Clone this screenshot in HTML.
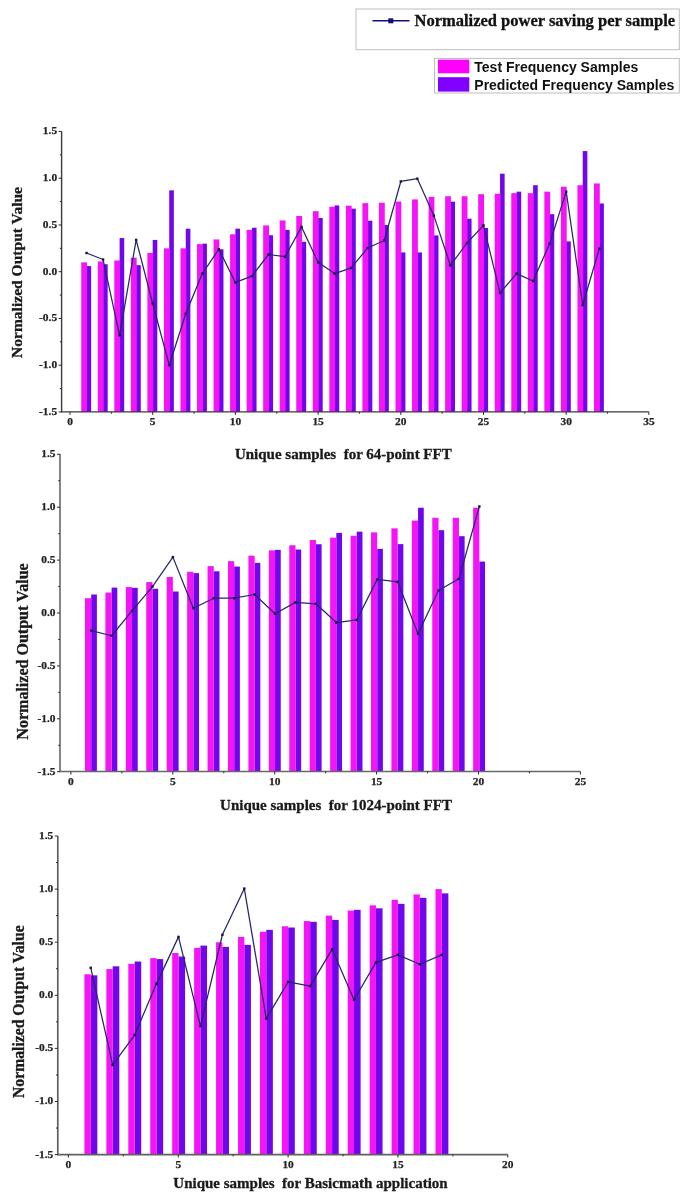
<!DOCTYPE html>
<html><head><meta charset="utf-8"><title>Normalized Output Charts</title>
<style>
html,body{margin:0;padding:0;background:#fff;}
body{width:685px;height:1200px;overflow:hidden;}
svg{display:block;filter:blur(0.4px);}
.bars{filter:blur(0.45px);}
.tk{font-family:"Liberation Serif",serif;font-weight:bold;font-size:11.4px;fill:#222;stroke:#222;stroke-width:0.25px;}
.xl{white-space:pre;font-family:"Liberation Serif",serif;font-weight:bold;font-size:15px;fill:#1a1a1a;stroke:#1a1a1a;stroke-width:0.3px;}
.yl{font-family:"Liberation Serif",serif;font-weight:bold;font-size:15.5px;fill:#1a1a1a;stroke:#1a1a1a;stroke-width:0.3px;}
.lg1{font-family:"Liberation Serif",serif;font-weight:bold;font-size:16.5px;fill:#111;stroke:#111;stroke-width:0.3px;}
.lg2{font-family:"Liberation Sans",sans-serif;font-weight:bold;font-size:14px;fill:#111;}
</style></head><body>
<svg width="685" height="1200" viewBox="0 0 685 1200">
<rect width="685" height="1200" fill="#fff"/>
<g>
<g class="bars">
<rect x="86.54" y="266.09" width="4.60" height="145.81" fill="#7006ec"/>
<rect x="81.24" y="262.35" width="5.80" height="149.55" fill="#f514f5"/>
<rect x="103.08" y="264.22" width="4.60" height="147.68" fill="#7006ec"/>
<rect x="97.78" y="261.41" width="5.80" height="150.49" fill="#f514f5"/>
<rect x="119.62" y="238.04" width="4.60" height="173.86" fill="#7006ec"/>
<rect x="114.32" y="260.48" width="5.80" height="151.42" fill="#f514f5"/>
<rect x="136.16" y="265.15" width="4.60" height="146.75" fill="#7006ec"/>
<rect x="130.86" y="257.68" width="5.80" height="154.22" fill="#f514f5"/>
<rect x="152.70" y="239.91" width="4.60" height="171.99" fill="#7006ec"/>
<rect x="147.40" y="253.00" width="5.80" height="158.90" fill="#f514f5"/>
<rect x="169.24" y="190.35" width="4.60" height="221.54" fill="#7006ec"/>
<rect x="163.94" y="248.32" width="5.80" height="163.57" fill="#f514f5"/>
<rect x="185.78" y="228.69" width="4.60" height="183.21" fill="#7006ec"/>
<rect x="180.48" y="248.32" width="5.80" height="163.57" fill="#f514f5"/>
<rect x="202.32" y="243.65" width="4.60" height="168.25" fill="#7006ec"/>
<rect x="197.02" y="244.12" width="5.80" height="167.78" fill="#f514f5"/>
<rect x="218.86" y="249.26" width="4.60" height="162.64" fill="#7006ec"/>
<rect x="213.56" y="239.44" width="5.80" height="172.46" fill="#f514f5"/>
<rect x="235.40" y="228.69" width="4.60" height="183.21" fill="#7006ec"/>
<rect x="230.10" y="234.30" width="5.80" height="177.60" fill="#f514f5"/>
<rect x="251.94" y="227.75" width="4.60" height="184.14" fill="#7006ec"/>
<rect x="246.64" y="229.91" width="5.80" height="181.99" fill="#f514f5"/>
<rect x="268.48" y="235.23" width="4.60" height="176.66" fill="#7006ec"/>
<rect x="263.18" y="225.42" width="5.80" height="186.48" fill="#f514f5"/>
<rect x="285.02" y="229.91" width="4.60" height="181.99" fill="#7006ec"/>
<rect x="279.72" y="220.46" width="5.80" height="191.44" fill="#f514f5"/>
<rect x="301.56" y="241.78" width="4.60" height="170.12" fill="#7006ec"/>
<rect x="296.26" y="215.97" width="5.80" height="195.93" fill="#f514f5"/>
<rect x="318.10" y="217.94" width="4.60" height="193.96" fill="#7006ec"/>
<rect x="312.80" y="211.21" width="5.80" height="200.69" fill="#f514f5"/>
<rect x="334.64" y="205.41" width="4.60" height="206.49" fill="#7006ec"/>
<rect x="329.34" y="206.72" width="5.80" height="205.18" fill="#f514f5"/>
<rect x="351.18" y="208.68" width="4.60" height="203.22" fill="#7006ec"/>
<rect x="345.88" y="205.69" width="5.80" height="206.21" fill="#f514f5"/>
<rect x="367.72" y="220.74" width="4.60" height="191.16" fill="#7006ec"/>
<rect x="362.42" y="203.16" width="5.80" height="208.74" fill="#f514f5"/>
<rect x="384.26" y="224.95" width="4.60" height="186.95" fill="#7006ec"/>
<rect x="378.96" y="202.70" width="5.80" height="209.20" fill="#f514f5"/>
<rect x="400.80" y="252.44" width="4.60" height="159.46" fill="#7006ec"/>
<rect x="395.50" y="201.57" width="5.80" height="210.32" fill="#f514f5"/>
<rect x="417.34" y="252.44" width="4.60" height="159.46" fill="#7006ec"/>
<rect x="412.04" y="199.42" width="5.80" height="212.48" fill="#f514f5"/>
<rect x="433.88" y="235.42" width="4.60" height="176.48" fill="#7006ec"/>
<rect x="428.58" y="196.90" width="5.80" height="215.00" fill="#f514f5"/>
<rect x="450.42" y="201.67" width="4.60" height="210.23" fill="#7006ec"/>
<rect x="445.12" y="196.25" width="5.80" height="215.65" fill="#f514f5"/>
<rect x="466.96" y="218.69" width="4.60" height="193.21" fill="#7006ec"/>
<rect x="461.66" y="196.25" width="5.80" height="215.65" fill="#f514f5"/>
<rect x="483.50" y="227.94" width="4.60" height="183.96" fill="#7006ec"/>
<rect x="478.20" y="194.19" width="5.80" height="217.71" fill="#f514f5"/>
<rect x="500.04" y="173.71" width="4.60" height="238.19" fill="#7006ec"/>
<rect x="494.74" y="193.72" width="5.80" height="218.18" fill="#f514f5"/>
<rect x="516.58" y="191.66" width="4.60" height="220.24" fill="#7006ec"/>
<rect x="511.28" y="193.16" width="5.80" height="218.74" fill="#f514f5"/>
<rect x="533.12" y="185.21" width="4.60" height="226.69" fill="#7006ec"/>
<rect x="527.82" y="193.16" width="5.80" height="218.74" fill="#f514f5"/>
<rect x="549.66" y="214.20" width="4.60" height="197.70" fill="#7006ec"/>
<rect x="544.36" y="191.66" width="5.80" height="220.24" fill="#f514f5"/>
<rect x="566.20" y="241.41" width="4.60" height="170.49" fill="#7006ec"/>
<rect x="560.90" y="186.71" width="5.80" height="225.19" fill="#f514f5"/>
<rect x="582.74" y="151.08" width="4.60" height="260.81" fill="#7006ec"/>
<rect x="577.44" y="185.21" width="5.80" height="226.69" fill="#f514f5"/>
<rect x="599.28" y="203.44" width="4.60" height="208.45" fill="#7006ec"/>
<rect x="593.98" y="183.44" width="5.80" height="228.46" fill="#f514f5"/>
</g>
<polyline points="86.54,253.00 103.08,259.54 119.62,335.28 136.16,239.91 152.70,303.49 169.24,365.20 185.78,313.77 202.32,273.57 218.86,249.26 235.40,282.45 251.94,276.19 268.48,254.50 285.02,256.74 301.56,226.91 318.10,262.35 334.64,273.57 351.18,267.96 367.72,247.95 384.26,240.47 400.80,181.47 417.34,178.67 433.88,215.60 450.42,265.44 466.96,243.00 483.50,225.42 500.04,292.92 516.58,273.57 533.12,281.05 549.66,243.65 566.20,191.66 582.74,304.99 599.28,248.70" fill="none" stroke="#26266c" stroke-width="1.25" stroke-linejoin="round"/>
<rect x="85.34" y="251.80" width="2.4" height="2.4" fill="#15153a"/>
<rect x="101.88" y="258.34" width="2.4" height="2.4" fill="#15153a"/>
<rect x="118.42" y="334.08" width="2.4" height="2.4" fill="#15153a"/>
<rect x="134.96" y="238.71" width="2.4" height="2.4" fill="#15153a"/>
<rect x="151.50" y="302.29" width="2.4" height="2.4" fill="#15153a"/>
<rect x="168.04" y="364.00" width="2.4" height="2.4" fill="#15153a"/>
<rect x="184.58" y="312.57" width="2.4" height="2.4" fill="#15153a"/>
<rect x="201.12" y="272.37" width="2.4" height="2.4" fill="#15153a"/>
<rect x="217.66" y="248.06" width="2.4" height="2.4" fill="#15153a"/>
<rect x="234.20" y="281.25" width="2.4" height="2.4" fill="#15153a"/>
<rect x="250.74" y="274.99" width="2.4" height="2.4" fill="#15153a"/>
<rect x="267.28" y="253.30" width="2.4" height="2.4" fill="#15153a"/>
<rect x="283.82" y="255.54" width="2.4" height="2.4" fill="#15153a"/>
<rect x="300.36" y="225.71" width="2.4" height="2.4" fill="#15153a"/>
<rect x="316.90" y="261.15" width="2.4" height="2.4" fill="#15153a"/>
<rect x="333.44" y="272.37" width="2.4" height="2.4" fill="#15153a"/>
<rect x="349.98" y="266.76" width="2.4" height="2.4" fill="#15153a"/>
<rect x="366.52" y="246.75" width="2.4" height="2.4" fill="#15153a"/>
<rect x="383.06" y="239.27" width="2.4" height="2.4" fill="#15153a"/>
<rect x="399.60" y="180.27" width="2.4" height="2.4" fill="#15153a"/>
<rect x="416.14" y="177.47" width="2.4" height="2.4" fill="#15153a"/>
<rect x="432.68" y="214.40" width="2.4" height="2.4" fill="#15153a"/>
<rect x="449.22" y="264.24" width="2.4" height="2.4" fill="#15153a"/>
<rect x="465.76" y="241.80" width="2.4" height="2.4" fill="#15153a"/>
<rect x="482.30" y="224.22" width="2.4" height="2.4" fill="#15153a"/>
<rect x="498.84" y="291.72" width="2.4" height="2.4" fill="#15153a"/>
<rect x="515.38" y="272.37" width="2.4" height="2.4" fill="#15153a"/>
<rect x="531.92" y="279.85" width="2.4" height="2.4" fill="#15153a"/>
<rect x="548.46" y="242.45" width="2.4" height="2.4" fill="#15153a"/>
<rect x="565.00" y="190.46" width="2.4" height="2.4" fill="#15153a"/>
<rect x="581.54" y="303.79" width="2.4" height="2.4" fill="#15153a"/>
<rect x="598.08" y="247.50" width="2.4" height="2.4" fill="#15153a"/>
<path d="M61.60 131.20 V411.90 H648.90" fill="none" stroke="#3a3a3a" stroke-width="1.4"/>
<line x1="58.60" y1="131.45" x2="61.60" y2="131.45" stroke="#2b2b2b" stroke-width="1"/>
<text x="57.10" y="134.35" text-anchor="end" class="tk">1.5</text>
<line x1="59.80" y1="154.82" x2="61.60" y2="154.82" stroke="#2b2b2b" stroke-width="1"/>
<line x1="58.60" y1="178.20" x2="61.60" y2="178.20" stroke="#2b2b2b" stroke-width="1"/>
<text x="57.10" y="181.10" text-anchor="end" class="tk">1.0</text>
<line x1="59.80" y1="201.57" x2="61.60" y2="201.57" stroke="#2b2b2b" stroke-width="1"/>
<line x1="58.60" y1="224.95" x2="61.60" y2="224.95" stroke="#2b2b2b" stroke-width="1"/>
<text x="57.10" y="227.85" text-anchor="end" class="tk">0.5</text>
<line x1="59.80" y1="248.32" x2="61.60" y2="248.32" stroke="#2b2b2b" stroke-width="1"/>
<line x1="58.60" y1="271.70" x2="61.60" y2="271.70" stroke="#2b2b2b" stroke-width="1"/>
<text x="57.10" y="274.60" text-anchor="end" class="tk">0.0</text>
<line x1="59.80" y1="295.07" x2="61.60" y2="295.07" stroke="#2b2b2b" stroke-width="1"/>
<line x1="58.60" y1="318.45" x2="61.60" y2="318.45" stroke="#2b2b2b" stroke-width="1"/>
<text x="57.10" y="321.35" text-anchor="end" class="tk">-0.5</text>
<line x1="59.80" y1="341.82" x2="61.60" y2="341.82" stroke="#2b2b2b" stroke-width="1"/>
<line x1="58.60" y1="365.20" x2="61.60" y2="365.20" stroke="#2b2b2b" stroke-width="1"/>
<text x="57.10" y="368.10" text-anchor="end" class="tk">-1.0</text>
<line x1="59.80" y1="388.57" x2="61.60" y2="388.57" stroke="#2b2b2b" stroke-width="1"/>
<line x1="58.60" y1="411.95" x2="61.60" y2="411.95" stroke="#2b2b2b" stroke-width="1"/>
<text x="57.10" y="414.85" text-anchor="end" class="tk">-1.5</text>
<line x1="70.00" y1="411.90" x2="70.00" y2="414.90" stroke="#2b2b2b" stroke-width="1"/>
<text x="70.00" y="425.00" text-anchor="middle" class="tk">0</text>
<line x1="111.35" y1="411.90" x2="111.35" y2="413.70" stroke="#2b2b2b" stroke-width="1"/>
<line x1="152.70" y1="411.90" x2="152.70" y2="414.90" stroke="#2b2b2b" stroke-width="1"/>
<text x="152.70" y="425.00" text-anchor="middle" class="tk">5</text>
<line x1="194.05" y1="411.90" x2="194.05" y2="413.70" stroke="#2b2b2b" stroke-width="1"/>
<line x1="235.40" y1="411.90" x2="235.40" y2="414.90" stroke="#2b2b2b" stroke-width="1"/>
<text x="235.40" y="425.00" text-anchor="middle" class="tk">10</text>
<line x1="276.75" y1="411.90" x2="276.75" y2="413.70" stroke="#2b2b2b" stroke-width="1"/>
<line x1="318.10" y1="411.90" x2="318.10" y2="414.90" stroke="#2b2b2b" stroke-width="1"/>
<text x="318.10" y="425.00" text-anchor="middle" class="tk">15</text>
<line x1="359.45" y1="411.90" x2="359.45" y2="413.70" stroke="#2b2b2b" stroke-width="1"/>
<line x1="400.80" y1="411.90" x2="400.80" y2="414.90" stroke="#2b2b2b" stroke-width="1"/>
<text x="400.80" y="425.00" text-anchor="middle" class="tk">20</text>
<line x1="442.15" y1="411.90" x2="442.15" y2="413.70" stroke="#2b2b2b" stroke-width="1"/>
<line x1="483.50" y1="411.90" x2="483.50" y2="414.90" stroke="#2b2b2b" stroke-width="1"/>
<text x="483.50" y="425.00" text-anchor="middle" class="tk">25</text>
<line x1="524.85" y1="411.90" x2="524.85" y2="413.70" stroke="#2b2b2b" stroke-width="1"/>
<line x1="566.20" y1="411.90" x2="566.20" y2="414.90" stroke="#2b2b2b" stroke-width="1"/>
<text x="566.20" y="425.00" text-anchor="middle" class="tk">30</text>
<line x1="607.55" y1="411.90" x2="607.55" y2="413.70" stroke="#2b2b2b" stroke-width="1"/>
<line x1="648.90" y1="411.90" x2="648.90" y2="414.90" stroke="#2b2b2b" stroke-width="1"/>
<text x="648.90" y="425.00" text-anchor="middle" class="tk">35</text>
<text x="343.3" y="459.3" text-anchor="middle" class="xl" xml:space="preserve">Unique samples  for 64-point FFT</text>
<text transform="translate(21.7,272.5) rotate(-90)" text-anchor="middle" class="yl" style="font-size:15.55px">Normalized Output Value</text>
<g class="bars">
<rect x="91.18" y="594.49" width="5.70" height="177.01" fill="#7006ec"/>
<rect x="84.98" y="598.19" width="6.20" height="173.31" fill="#f514f5"/>
<rect x="111.61" y="587.61" width="5.70" height="183.89" fill="#7006ec"/>
<rect x="105.41" y="592.58" width="6.20" height="178.92" fill="#f514f5"/>
<rect x="132.04" y="587.82" width="5.70" height="183.68" fill="#7006ec"/>
<rect x="125.84" y="587.08" width="6.20" height="184.42" fill="#f514f5"/>
<rect x="152.47" y="588.77" width="5.70" height="182.73" fill="#7006ec"/>
<rect x="146.27" y="582.11" width="6.20" height="189.39" fill="#f514f5"/>
<rect x="172.90" y="591.52" width="5.70" height="179.98" fill="#7006ec"/>
<rect x="166.70" y="577.03" width="6.20" height="194.47" fill="#f514f5"/>
<rect x="193.33" y="573.11" width="5.70" height="198.39" fill="#7006ec"/>
<rect x="187.13" y="571.74" width="6.20" height="199.76" fill="#f514f5"/>
<rect x="213.76" y="571.31" width="5.70" height="200.19" fill="#7006ec"/>
<rect x="207.56" y="566.13" width="6.20" height="205.37" fill="#f514f5"/>
<rect x="234.19" y="566.55" width="5.70" height="204.95" fill="#7006ec"/>
<rect x="227.99" y="561.16" width="6.20" height="210.34" fill="#f514f5"/>
<rect x="254.62" y="562.85" width="5.70" height="208.65" fill="#7006ec"/>
<rect x="248.42" y="555.66" width="6.20" height="215.84" fill="#f514f5"/>
<rect x="275.05" y="549.84" width="5.70" height="221.66" fill="#7006ec"/>
<rect x="268.85" y="550.37" width="6.20" height="221.13" fill="#f514f5"/>
<rect x="295.48" y="549.52" width="5.70" height="221.98" fill="#7006ec"/>
<rect x="289.28" y="545.29" width="6.20" height="226.21" fill="#f514f5"/>
<rect x="315.91" y="544.23" width="5.70" height="227.27" fill="#7006ec"/>
<rect x="309.71" y="540.00" width="6.20" height="231.50" fill="#f514f5"/>
<rect x="336.34" y="532.91" width="5.70" height="238.59" fill="#7006ec"/>
<rect x="330.14" y="537.67" width="6.20" height="233.83" fill="#f514f5"/>
<rect x="356.77" y="531.64" width="5.70" height="239.86" fill="#7006ec"/>
<rect x="350.57" y="535.77" width="6.20" height="235.73" fill="#f514f5"/>
<rect x="377.20" y="548.89" width="5.70" height="222.61" fill="#7006ec"/>
<rect x="371.00" y="532.38" width="6.20" height="239.12" fill="#f514f5"/>
<rect x="397.63" y="544.12" width="5.70" height="227.38" fill="#7006ec"/>
<rect x="391.43" y="528.36" width="6.20" height="243.14" fill="#f514f5"/>
<rect x="418.06" y="507.73" width="5.70" height="263.77" fill="#7006ec"/>
<rect x="411.86" y="520.64" width="6.20" height="250.86" fill="#f514f5"/>
<rect x="438.49" y="530.16" width="5.70" height="241.34" fill="#7006ec"/>
<rect x="432.29" y="517.78" width="6.20" height="253.72" fill="#f514f5"/>
<rect x="458.92" y="536.19" width="5.70" height="235.31" fill="#7006ec"/>
<rect x="452.72" y="517.78" width="6.20" height="253.72" fill="#f514f5"/>
<rect x="479.35" y="561.58" width="5.70" height="209.92" fill="#7006ec"/>
<rect x="473.15" y="507.73" width="6.20" height="263.77" fill="#f514f5"/>
</g>
<polyline points="91.18,630.67 111.61,635.75 132.04,610.88 152.47,586.55 172.90,557.14 193.33,608.24 213.76,598.19 234.19,598.19 254.62,594.49 275.05,613.74 295.48,602.42 315.91,603.80 336.34,622.52 356.77,619.98 377.20,579.36 397.63,581.79 418.06,633.74 438.49,590.57 458.92,578.83 479.35,506.46" fill="none" stroke="#26266c" stroke-width="1.25" stroke-linejoin="round"/>
<rect x="89.98" y="629.47" width="2.4" height="2.4" fill="#15153a"/>
<rect x="110.41" y="634.55" width="2.4" height="2.4" fill="#15153a"/>
<rect x="130.84" y="609.68" width="2.4" height="2.4" fill="#15153a"/>
<rect x="151.27" y="585.35" width="2.4" height="2.4" fill="#15153a"/>
<rect x="171.70" y="555.94" width="2.4" height="2.4" fill="#15153a"/>
<rect x="192.13" y="607.04" width="2.4" height="2.4" fill="#15153a"/>
<rect x="212.56" y="596.99" width="2.4" height="2.4" fill="#15153a"/>
<rect x="232.99" y="596.99" width="2.4" height="2.4" fill="#15153a"/>
<rect x="253.42" y="593.28" width="2.4" height="2.4" fill="#15153a"/>
<rect x="273.85" y="612.54" width="2.4" height="2.4" fill="#15153a"/>
<rect x="294.28" y="601.22" width="2.4" height="2.4" fill="#15153a"/>
<rect x="314.71" y="602.60" width="2.4" height="2.4" fill="#15153a"/>
<rect x="335.14" y="621.32" width="2.4" height="2.4" fill="#15153a"/>
<rect x="355.57" y="618.78" width="2.4" height="2.4" fill="#15153a"/>
<rect x="376.00" y="578.16" width="2.4" height="2.4" fill="#15153a"/>
<rect x="396.43" y="580.59" width="2.4" height="2.4" fill="#15153a"/>
<rect x="416.86" y="632.54" width="2.4" height="2.4" fill="#15153a"/>
<rect x="437.29" y="589.37" width="2.4" height="2.4" fill="#15153a"/>
<rect x="457.72" y="577.63" width="2.4" height="2.4" fill="#15153a"/>
<rect x="478.15" y="505.26" width="2.4" height="2.4" fill="#15153a"/>
<path d="M60.00 454.00 V771.50 H580.40" fill="none" stroke="#686868" stroke-width="1.6"/>
<line x1="57.00" y1="454.30" x2="60.00" y2="454.30" stroke="#2b2b2b" stroke-width="1"/>
<text x="55.50" y="457.20" text-anchor="end" class="tk">1.5</text>
<line x1="58.20" y1="480.75" x2="60.00" y2="480.75" stroke="#2b2b2b" stroke-width="1"/>
<line x1="57.00" y1="507.20" x2="60.00" y2="507.20" stroke="#2b2b2b" stroke-width="1"/>
<text x="55.50" y="510.10" text-anchor="end" class="tk">1.0</text>
<line x1="58.20" y1="533.65" x2="60.00" y2="533.65" stroke="#2b2b2b" stroke-width="1"/>
<line x1="57.00" y1="560.10" x2="60.00" y2="560.10" stroke="#2b2b2b" stroke-width="1"/>
<text x="55.50" y="563.00" text-anchor="end" class="tk">0.5</text>
<line x1="58.20" y1="586.55" x2="60.00" y2="586.55" stroke="#2b2b2b" stroke-width="1"/>
<line x1="57.00" y1="613.00" x2="60.00" y2="613.00" stroke="#2b2b2b" stroke-width="1"/>
<text x="55.50" y="615.90" text-anchor="end" class="tk">0.0</text>
<line x1="58.20" y1="639.45" x2="60.00" y2="639.45" stroke="#2b2b2b" stroke-width="1"/>
<line x1="57.00" y1="665.90" x2="60.00" y2="665.90" stroke="#2b2b2b" stroke-width="1"/>
<text x="55.50" y="668.80" text-anchor="end" class="tk">-0.5</text>
<line x1="58.20" y1="692.35" x2="60.00" y2="692.35" stroke="#2b2b2b" stroke-width="1"/>
<line x1="57.00" y1="718.80" x2="60.00" y2="718.80" stroke="#2b2b2b" stroke-width="1"/>
<text x="55.50" y="721.70" text-anchor="end" class="tk">-1.0</text>
<line x1="58.20" y1="745.25" x2="60.00" y2="745.25" stroke="#2b2b2b" stroke-width="1"/>
<line x1="57.00" y1="771.70" x2="60.00" y2="771.70" stroke="#2b2b2b" stroke-width="1"/>
<text x="55.50" y="774.60" text-anchor="end" class="tk">-1.5</text>
<line x1="70.90" y1="771.50" x2="70.90" y2="774.50" stroke="#2b2b2b" stroke-width="1"/>
<text x="70.90" y="784.60" text-anchor="middle" class="tk">0</text>
<line x1="121.85" y1="771.50" x2="121.85" y2="773.30" stroke="#2b2b2b" stroke-width="1"/>
<line x1="172.80" y1="771.50" x2="172.80" y2="774.50" stroke="#2b2b2b" stroke-width="1"/>
<text x="172.80" y="784.60" text-anchor="middle" class="tk">5</text>
<line x1="223.75" y1="771.50" x2="223.75" y2="773.30" stroke="#2b2b2b" stroke-width="1"/>
<line x1="274.70" y1="771.50" x2="274.70" y2="774.50" stroke="#2b2b2b" stroke-width="1"/>
<text x="274.70" y="784.60" text-anchor="middle" class="tk">10</text>
<line x1="325.65" y1="771.50" x2="325.65" y2="773.30" stroke="#2b2b2b" stroke-width="1"/>
<line x1="376.60" y1="771.50" x2="376.60" y2="774.50" stroke="#2b2b2b" stroke-width="1"/>
<text x="376.60" y="784.60" text-anchor="middle" class="tk">15</text>
<line x1="427.55" y1="771.50" x2="427.55" y2="773.30" stroke="#2b2b2b" stroke-width="1"/>
<line x1="478.50" y1="771.50" x2="478.50" y2="774.50" stroke="#2b2b2b" stroke-width="1"/>
<text x="478.50" y="784.60" text-anchor="middle" class="tk">20</text>
<line x1="529.45" y1="771.50" x2="529.45" y2="773.30" stroke="#2b2b2b" stroke-width="1"/>
<line x1="580.40" y1="771.50" x2="580.40" y2="774.50" stroke="#2b2b2b" stroke-width="1"/>
<text x="580.40" y="784.60" text-anchor="middle" class="tk">25</text>
<text x="336" y="809.5" text-anchor="middle" class="xl" xml:space="preserve">Unique samples  for 1024-point FFT</text>
<text transform="translate(28.3,651.5) rotate(-90)" text-anchor="middle" class="yl" style="font-size:16.05px">Normalized Output Value</text>
<g class="bars">
<rect x="90.74" y="975.33" width="6.60" height="179.27" fill="#7006ec"/>
<rect x="84.44" y="974.27" width="6.30" height="180.33" fill="#f514f5"/>
<rect x="112.68" y="966.31" width="6.60" height="188.29" fill="#7006ec"/>
<rect x="106.38" y="969.07" width="6.30" height="185.53" fill="#f514f5"/>
<rect x="134.62" y="961.53" width="6.60" height="193.07" fill="#7006ec"/>
<rect x="128.32" y="963.86" width="6.30" height="190.74" fill="#f514f5"/>
<rect x="156.56" y="959.09" width="6.60" height="195.51" fill="#7006ec"/>
<rect x="150.26" y="958.13" width="6.30" height="196.47" fill="#f514f5"/>
<rect x="178.50" y="956.54" width="6.60" height="198.06" fill="#7006ec"/>
<rect x="172.20" y="953.03" width="6.30" height="201.57" fill="#f514f5"/>
<rect x="200.44" y="945.60" width="6.60" height="209.00" fill="#7006ec"/>
<rect x="194.14" y="947.83" width="6.30" height="206.77" fill="#f514f5"/>
<rect x="222.38" y="946.87" width="6.60" height="207.73" fill="#7006ec"/>
<rect x="216.08" y="942.31" width="6.30" height="212.29" fill="#f514f5"/>
<rect x="244.32" y="944.85" width="6.60" height="209.75" fill="#7006ec"/>
<rect x="238.02" y="936.89" width="6.30" height="217.71" fill="#f514f5"/>
<rect x="266.26" y="929.88" width="6.60" height="224.72" fill="#7006ec"/>
<rect x="259.96" y="931.79" width="6.30" height="222.81" fill="#f514f5"/>
<rect x="288.20" y="927.54" width="6.60" height="227.06" fill="#7006ec"/>
<rect x="281.90" y="926.27" width="6.30" height="228.33" fill="#f514f5"/>
<rect x="310.14" y="921.81" width="6.60" height="232.79" fill="#7006ec"/>
<rect x="303.84" y="921.07" width="6.30" height="233.53" fill="#f514f5"/>
<rect x="332.08" y="919.90" width="6.60" height="234.70" fill="#7006ec"/>
<rect x="325.78" y="915.65" width="6.30" height="238.95" fill="#f514f5"/>
<rect x="354.02" y="909.81" width="6.60" height="244.79" fill="#7006ec"/>
<rect x="347.72" y="910.55" width="6.30" height="244.05" fill="#f514f5"/>
<rect x="375.96" y="908.32" width="6.60" height="246.28" fill="#7006ec"/>
<rect x="369.66" y="905.35" width="6.30" height="249.25" fill="#f514f5"/>
<rect x="397.90" y="903.86" width="6.60" height="250.74" fill="#7006ec"/>
<rect x="391.60" y="899.83" width="6.30" height="254.77" fill="#f514f5"/>
<rect x="419.84" y="897.81" width="6.60" height="256.79" fill="#7006ec"/>
<rect x="413.54" y="894.41" width="6.30" height="260.19" fill="#f514f5"/>
<rect x="441.78" y="893.35" width="6.60" height="261.25" fill="#7006ec"/>
<rect x="435.48" y="889.10" width="6.30" height="265.50" fill="#f514f5"/>
</g>
<polyline points="90.74,967.79 112.68,1064.97 134.62,1035.02 156.56,983.62 178.50,936.89 200.44,1026.10 222.38,934.77 244.32,888.57 266.26,1018.56 288.20,981.81 310.14,986.06 332.08,949.32 354.02,999.76 375.96,962.38 397.90,954.84 419.84,964.29 441.78,954.84" fill="none" stroke="#26266c" stroke-width="1.25" stroke-linejoin="round"/>
<rect x="89.54" y="966.59" width="2.4" height="2.4" fill="#15153a"/>
<rect x="111.48" y="1063.77" width="2.4" height="2.4" fill="#15153a"/>
<rect x="133.42" y="1033.82" width="2.4" height="2.4" fill="#15153a"/>
<rect x="155.36" y="982.42" width="2.4" height="2.4" fill="#15153a"/>
<rect x="177.30" y="935.69" width="2.4" height="2.4" fill="#15153a"/>
<rect x="199.24" y="1024.90" width="2.4" height="2.4" fill="#15153a"/>
<rect x="221.18" y="933.57" width="2.4" height="2.4" fill="#15153a"/>
<rect x="243.12" y="887.37" width="2.4" height="2.4" fill="#15153a"/>
<rect x="265.06" y="1017.36" width="2.4" height="2.4" fill="#15153a"/>
<rect x="287.00" y="980.61" width="2.4" height="2.4" fill="#15153a"/>
<rect x="308.94" y="984.86" width="2.4" height="2.4" fill="#15153a"/>
<rect x="330.88" y="948.12" width="2.4" height="2.4" fill="#15153a"/>
<rect x="352.82" y="998.56" width="2.4" height="2.4" fill="#15153a"/>
<rect x="374.76" y="961.18" width="2.4" height="2.4" fill="#15153a"/>
<rect x="396.70" y="953.64" width="2.4" height="2.4" fill="#15153a"/>
<rect x="418.64" y="963.09" width="2.4" height="2.4" fill="#15153a"/>
<rect x="440.58" y="953.64" width="2.4" height="2.4" fill="#15153a"/>
<path d="M57.80 836.00 V1154.60 H507.80" fill="none" stroke="#606060" stroke-width="1.7"/>
<line x1="54.80" y1="836.00" x2="57.80" y2="836.00" stroke="#2b2b2b" stroke-width="1"/>
<text x="53.30" y="838.90" text-anchor="end" class="tk">1.5</text>
<line x1="56.00" y1="862.55" x2="57.80" y2="862.55" stroke="#2b2b2b" stroke-width="1"/>
<line x1="54.80" y1="889.10" x2="57.80" y2="889.10" stroke="#2b2b2b" stroke-width="1"/>
<text x="53.30" y="892.00" text-anchor="end" class="tk">1.0</text>
<line x1="56.00" y1="915.65" x2="57.80" y2="915.65" stroke="#2b2b2b" stroke-width="1"/>
<line x1="54.80" y1="942.20" x2="57.80" y2="942.20" stroke="#2b2b2b" stroke-width="1"/>
<text x="53.30" y="945.10" text-anchor="end" class="tk">0.5</text>
<line x1="56.00" y1="968.75" x2="57.80" y2="968.75" stroke="#2b2b2b" stroke-width="1"/>
<line x1="54.80" y1="995.30" x2="57.80" y2="995.30" stroke="#2b2b2b" stroke-width="1"/>
<text x="53.30" y="998.20" text-anchor="end" class="tk">0.0</text>
<line x1="56.00" y1="1021.85" x2="57.80" y2="1021.85" stroke="#2b2b2b" stroke-width="1"/>
<line x1="54.80" y1="1048.40" x2="57.80" y2="1048.40" stroke="#2b2b2b" stroke-width="1"/>
<text x="53.30" y="1051.30" text-anchor="end" class="tk">-0.5</text>
<line x1="56.00" y1="1074.95" x2="57.80" y2="1074.95" stroke="#2b2b2b" stroke-width="1"/>
<line x1="54.80" y1="1101.50" x2="57.80" y2="1101.50" stroke="#2b2b2b" stroke-width="1"/>
<text x="53.30" y="1104.40" text-anchor="end" class="tk">-1.0</text>
<line x1="56.00" y1="1128.05" x2="57.80" y2="1128.05" stroke="#2b2b2b" stroke-width="1"/>
<line x1="54.80" y1="1154.60" x2="57.80" y2="1154.60" stroke="#2b2b2b" stroke-width="1"/>
<text x="53.30" y="1157.50" text-anchor="end" class="tk">-1.5</text>
<line x1="68.40" y1="1154.60" x2="68.40" y2="1157.60" stroke="#2b2b2b" stroke-width="1"/>
<text x="68.40" y="1167.70" text-anchor="middle" class="tk">0</text>
<line x1="123.33" y1="1154.60" x2="123.33" y2="1156.40" stroke="#2b2b2b" stroke-width="1"/>
<line x1="178.25" y1="1154.60" x2="178.25" y2="1157.60" stroke="#2b2b2b" stroke-width="1"/>
<text x="178.25" y="1167.70" text-anchor="middle" class="tk">5</text>
<line x1="233.17" y1="1154.60" x2="233.17" y2="1156.40" stroke="#2b2b2b" stroke-width="1"/>
<line x1="288.10" y1="1154.60" x2="288.10" y2="1157.60" stroke="#2b2b2b" stroke-width="1"/>
<text x="288.10" y="1167.70" text-anchor="middle" class="tk">10</text>
<line x1="343.02" y1="1154.60" x2="343.02" y2="1156.40" stroke="#2b2b2b" stroke-width="1"/>
<line x1="397.95" y1="1154.60" x2="397.95" y2="1157.60" stroke="#2b2b2b" stroke-width="1"/>
<text x="397.95" y="1167.70" text-anchor="middle" class="tk">15</text>
<line x1="452.88" y1="1154.60" x2="452.88" y2="1156.40" stroke="#2b2b2b" stroke-width="1"/>
<line x1="507.80" y1="1154.60" x2="507.80" y2="1157.60" stroke="#2b2b2b" stroke-width="1"/>
<text x="507.80" y="1167.70" text-anchor="middle" class="tk">20</text>
<text x="310.5" y="1188" text-anchor="middle" class="xl" xml:space="preserve">Unique samples  for Basicmath application</text>
<text transform="translate(24.2,1011.7) rotate(-90)" text-anchor="middle" class="yl" style="font-size:15.7px">Normalized Output Value</text>
</g>
<g>

<rect x="356" y="9" width="323.3" height="40.7" fill="#fff" stroke="#bdbdbd" stroke-width="1"/>
<line x1="372.5" y1="20.8" x2="409.5" y2="20.8" stroke="#10107a" stroke-width="1.5"/>
<rect x="388.3" y="18.3" width="5" height="5" fill="#10107a"/>
<text x="414.5" y="26" class="lg1">Normalized power saving per sample</text>
<rect x="434.5" y="58.4" width="244.8" height="34.6" fill="#fff" stroke="#bdbdbd" stroke-width="1"/>
<rect x="438" y="59.6" width="31.3" height="13.7" fill="#ff00ff"/>
<rect x="438" y="77.2" width="31.3" height="14.4" fill="#7f00ff"/>
<text x="474.3" y="72" class="lg2">Test Frequency Samples</text>
<text x="474.3" y="89.5" class="lg2">Predicted Frequency Samples</text>

</g>
</svg>
</body></html>
